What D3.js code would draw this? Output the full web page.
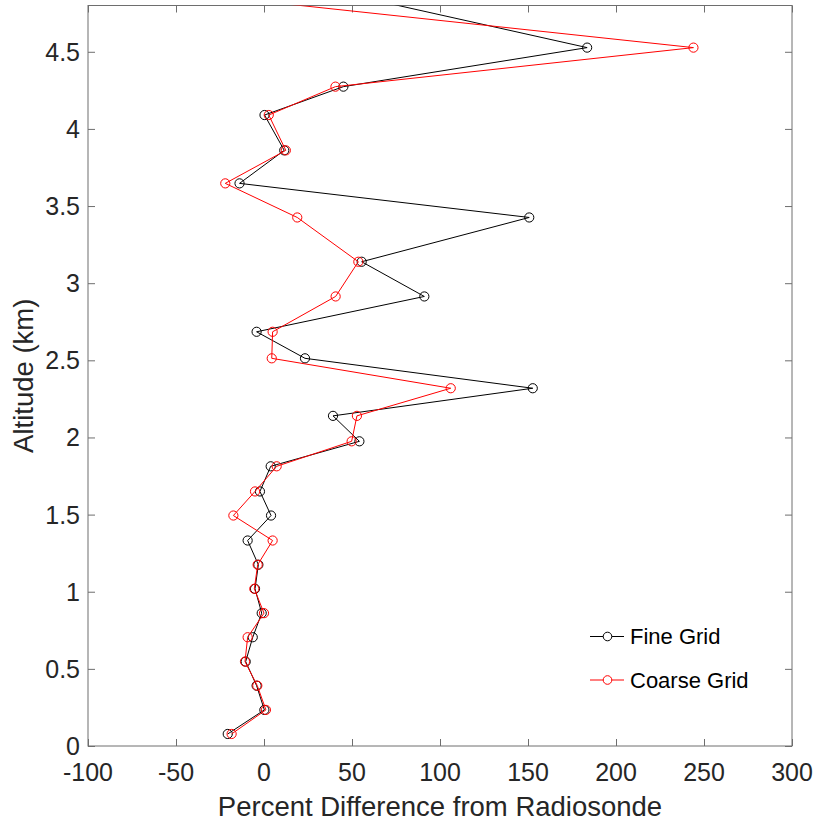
<!DOCTYPE html>
<html>
<head>
<meta charset="utf-8">
<script src="https://cdn.jsdelivr.net/npm/d3@7"></script>
<style>
  html, body { margin: 0; padding: 0; background: #fff; }
  svg { display: block; font-family: "Liberation Sans", Arial, Helvetica, sans-serif; }
</style>
</head>
<body>
<svg id="chart" width="815" height="823"></svg>
<script>
// Altitude levels (km) of the comparison profile
const altitude = [0.078, 0.234, 0.391, 0.547, 0.705, 0.861, 1.019, 1.175, 1.332, 1.494,
                  1.650, 1.813, 1.975, 2.140, 2.319, 2.513, 2.685, 2.914, 3.139, 3.426,
                  3.647, 3.861, 4.090, 4.274, 4.527, 4.900];
// Percent difference from radiosonde, fine grid run
const fineGrid = [-20.6, 0.2, -4.2, -10.4, -6.4, -1.3, -5.1, -3.2, -9.3, 4.0,
                  -2.3, 3.8, 54.2, 39.2, 152.7, 23.3, -4.2, 91.1, 55.5, 150.7,
                  -13.9, 11.5, 0.3, 45.1, 183.6, 37.0];
// Percent difference from radiosonde, coarse grid run
const coarseGrid = [-18.4, 1.1, -3.8, -10.8, -9.3, 0.0, -5.5, -3.6, 4.9, -17.4,
                    -5.1, 7.2, 49.8, 52.8, 106.1, 4.4, 4.9, 40.7, 53.6, 18.9,
                    -22.0, 12.4, 2.7, 40.6, 244.0, -61.0];
const seriesNames = ["Fine Grid", "Coarse Grid"];
const seriesColors = ["#000000", "#ff0000"];
const xTicks = [-100, -50, 0, 50, 100, 150, 200, 250, 300];
const yTicks = [0, 0.5, 1, 1.5, 2, 2.5, 3, 3.5, 4, 4.5];
const xDomain = [-100, 300];
const yDomain = [0, 4.8];

const svg = d3.select("#chart");
const box = { left: 88, right: 792, top: 5.5, bottom: 746 };
const x = d3.scaleLinear().domain(xDomain).range([box.left, box.right]);
const y = d3.scaleLinear().domain(yDomain).range([box.bottom, box.top]);

const axisColor = "#6e6e6e";
const textColor = "#262626";
const tickLen = 7;

// clip the data to the axes box
svg.append("defs").append("clipPath").attr("id", "plotClip")
  .append("rect").attr("x", box.left).attr("y", box.top)
  .attr("width", box.right - box.left).attr("height", box.bottom - box.top);

// axes: ticks point inward on all four sides
function styleAxis(g) {
  g.select(".domain").remove();
  g.selectAll(".tick line").attr("stroke", axisColor);
  g.selectAll(".tick text").remove();
}
svg.append("g").attr("transform", `translate(0,${box.bottom})`)
  .call(d3.axisBottom(x).tickValues(xTicks).tickSizeInner(-tickLen).tickSizeOuter(0)).call(styleAxis);
svg.append("g").attr("transform", `translate(0,${box.top})`)
  .call(d3.axisTop(x).tickValues(xTicks).tickSizeInner(-tickLen).tickSizeOuter(0)).call(styleAxis);
svg.append("g").attr("transform", `translate(${box.left},0)`)
  .call(d3.axisLeft(y).tickValues(yTicks).tickSizeInner(-tickLen).tickSizeOuter(0)).call(styleAxis);
svg.append("g").attr("transform", `translate(${box.right},0)`)
  .call(d3.axisRight(y).tickValues(yTicks).tickSizeInner(-tickLen).tickSizeOuter(0)).call(styleAxis);

// box outline
svg.append("rect").attr("x", box.left).attr("y", box.top)
  .attr("width", box.right - box.left).attr("height", box.bottom - box.top)
  .attr("fill", "none").attr("stroke", axisColor).attr("stroke-width", 1);

// tick labels
svg.append("g").selectAll("text").data(xTicks).join("text")
  .attr("x", d => x(d)).attr("y", 781)
  .attr("text-anchor", "middle").attr("font-size", 25).attr("fill", textColor)
  .text(d => d);
svg.append("g").selectAll("text").data(yTicks).join("text")
  .attr("x", 80).attr("y", d => y(d)).attr("dy", "0.36em")
  .attr("text-anchor", "end").attr("font-size", 25).attr("fill", textColor)
  .text(d => d);

// axis titles
svg.append("text").attr("x", (box.left + box.right) / 2).attr("y", 816)
  .attr("text-anchor", "middle").attr("font-size", 27.5).attr("fill", textColor)
  .text("Percent Difference from Radiosonde");
svg.append("text")
  .attr("transform", `translate(33,${(box.top + box.bottom) / 2}) rotate(-90)`)
  .attr("text-anchor", "middle").attr("font-size", 27.5).attr("fill", textColor)
  .text("Altitude (km)");

// profiles
const series = [fineGrid, coarseGrid];
const plot = svg.append("g").attr("clip-path", "url(#plotClip)");
const line = d3.line().x(d => x(d[0])).y(d => y(d[1]));
series.forEach((vals, i) => {
  const pts = vals.map((v, k) => [v, altitude[k]]);
  const g = plot.append("g");
  g.append("path").datum(pts).attr("d", line)
    .attr("fill", "none").attr("stroke", seriesColors[i]).attr("stroke-width", 1);
  g.selectAll("circle").data(pts).join("circle")
    .attr("cx", d => x(d[0])).attr("cy", d => y(d[1])).attr("r", 4.6)
    .attr("fill", "none").attr("stroke", seriesColors[i]).attr("stroke-width", 1);
});

// legend
const legendRows = [636.5, 680];
const legend = svg.append("g");
seriesNames.forEach((name, i) => {
  const ly = legendRows[i];
  legend.append("line").attr("x1", 590).attr("x2", 624).attr("y1", ly).attr("y2", ly)
    .attr("stroke", seriesColors[i]).attr("stroke-width", 1);
  legend.append("circle").attr("cx", 607.5).attr("cy", ly).attr("r", 4.3)
    .attr("fill", "#fff").attr("stroke", seriesColors[i]).attr("stroke-width", 1);
  legend.append("text").attr("x", 630).attr("y", ly).attr("dy", "0.36em")
    .attr("font-size", 22).attr("fill", "#000").text(name);
});
</script>
</body>
</html>
